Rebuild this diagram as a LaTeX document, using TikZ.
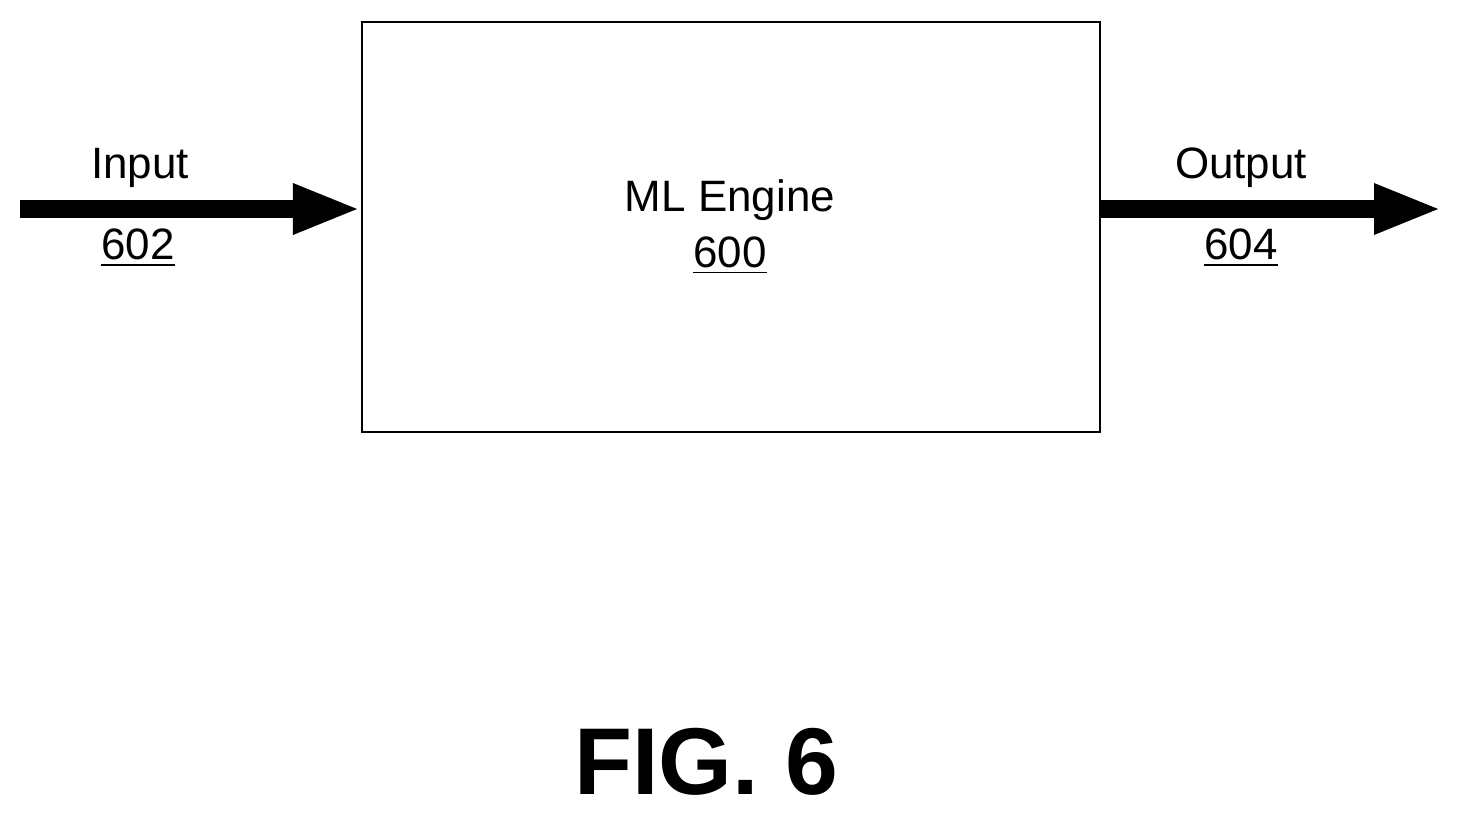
\documentclass[tikz,border=0pt]{standalone}
\usepackage{fontspec}
\setmainfont{Liberation Sans}
\usetikzlibrary{arrows.meta, positioning}
\tikzset{
    bigArrow/.style={line width=0.18cm, -{Triangle[length=0.68cm, width=0.46cm]}},
    lbl/.style={font=\fontsize{12.5}{14}\selectfont, inner sep=0pt}
}
\begin{document}
\begin{tikzpicture}
    \useasboundingbox (0,0) rectangle (14.64,8.16);
    \node[draw, line width=0.6pt, minimum width=7.38cm, minimum height=4.10cm, inner sep=0pt]
        (cEngine) at (7.31,5.89) {};
    \node[lbl, align=center] (cEngineTxt) at (7.30,5.89) {ML Engine\\[2pt]\underline{600}};
    \coordinate (cInPt) at (0.20,6.07);
    \coordinate (cOutPt) at (14.42,6.07);
    \draw [bigArrow] (cInPt) -- (cEngine.west |- cInPt);
    \draw [bigArrow] (cEngine.east |- cOutPt) -- (cOutPt);
    \node[lbl] (cInput) at (1.40,6.48) {Input};
    \node[lbl] (cInNum) at (1.38,5.68) {\underline{602}};
    \node[lbl] (cOutput) at (12.41,6.48) {Output};
    \node[lbl] (cOutNum) at (12.41,5.68) {\underline{604}};
    \node[inner sep=0pt, font=\bfseries\fontsize{27}{30}\selectfont] (cFig) at (7.06,0.54) {FIG. 6};
\end{tikzpicture}
\end{document}
